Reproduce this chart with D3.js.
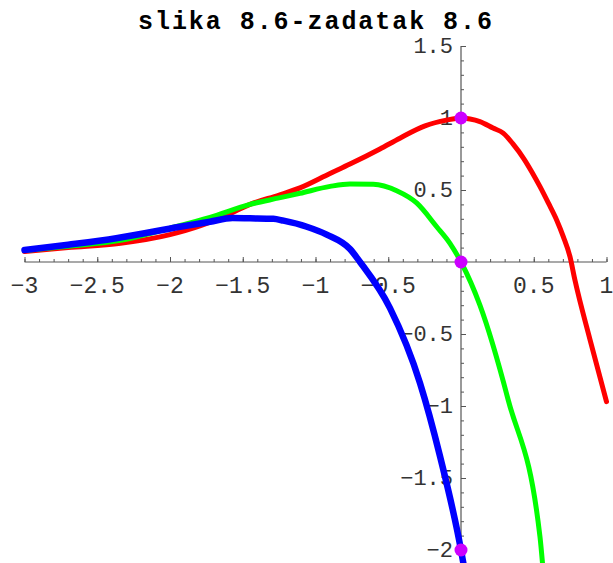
<!DOCTYPE html>
<html>
<head>
<meta charset="utf-8">
<script src="https://cdn.jsdelivr.net/npm/d3@7"></script>
<style>
  html, body { margin: 0; padding: 0; background: #fff; }
  svg { display: block; }
</style>
</head>
<body>
<svg id="chart" width="613" height="563"></svg>
<script>
// f(x), f'(x) and f''(x) sampled as [x, y] pairs
const redPoints = [
  [-3, 0.073], [-2.7, 0.10], [-2.34, 0.13], [-2.0, 0.19], [-1.79, 0.252], [-1.6, 0.33],
  [-1.45, 0.40], [-1.25, 0.465], [-1.107, 0.515], [-0.9, 0.615], [-0.763, 0.68],
  [-0.557, 0.785], [-0.42, 0.86], [-0.247, 0.945], [-0.1, 0.985], [0, 1.0],
  [0.062, 0.993], [0.13, 0.975], [0.22, 0.93], [0.29, 0.895], [0.357, 0.82],
  [0.43, 0.72], [0.486, 0.627], [0.543, 0.523], [0.6, 0.41], [0.658, 0.29],
  [0.703, 0.176], [0.749, 0.037], [0.783, -0.125], [0.887, -0.54], [1.0, -0.97]
];
const greenPoints = [
  [-3, 0.08], [-2.7, 0.11], [-2.34, 0.15], [-2.0, 0.235], [-1.725, 0.31],
  [-1.45, 0.40], [-1.25, 0.445], [-1.107, 0.477], [-0.9, 0.525], [-0.763, 0.542],
  [-0.603, 0.54], [-0.442, 0.495], [-0.305, 0.41], [-0.167, 0.245], [-0.076, 0.13],
  [0, 0], [0.13, -0.3], [0.325, -0.96], [0.543, -1.91], [0.56, -2.09]
];
const bluePoints = [
  [-3, 0.083], [-2.7, 0.12], [-2.37, 0.165], [-1.93, 0.245], [-1.725, 0.28],
  [-1.57, 0.305], [-1.45, 0.303], [-1.29, 0.30], [-1.22, 0.287], [-1.06, 0.245],
  [-0.923, 0.19], [-0.763, 0.09], [-0.694, 0.0], [-0.488, -0.32], [-0.282, -0.84],
  [-0.144, -1.35], [0, -2.0], [0.016, -2.09]
];
// marked values at x = 0
const markedPoints = [[0, 1], [0, 0], [0, -2]];

const xLabelValues = [-3, -2.5, -2, -1.5, -1, -0.5, 0.5, 1];
const yLabelValues = [1.5, 1, 0.5, -0.5, -1, -1.5, -2];
const titleText = "slika 8.6-zadatak 8.6";

const svg = d3.select("#chart");
const W = 613, H = 563;

const x = d3.scaleLinear().domain([-3, 1]).range([24.5, 606.5]);
const y = d3.scaleLinear().domain([1.5, -2]).range([46, 550]);

const fmt = v => String(v).replace("-", "\u2212");
const labelFont = "'Courier New', 'Liberation Mono', monospace";

// title
svg.append("text")
  .attr("x", 315).attr("y", 29)
  .attr("text-anchor", "middle")
  .attr("textLength", 354)
  .attr("lengthAdjust", "spacing")
  .style("font-family", labelFont)
  .style("font-weight", "bold")
  .style("font-size", "25px")
  .text(titleText);

const axisColor = "#555";

// horizontal axis: line, minor and major ticks pointing up
const minorX = d3.range(-30, 11).map(i => i / 10);
const majorX = d3.range(-6, 3).map(i => i / 2);
const gx = svg.append("g").attr("transform", `translate(0,${y(0)})`);
gx.call(d3.axisTop(x).tickValues(minorX).tickSize(3).tickFormat(""));
gx.call(g => g.append("g").call(d3.axisTop(x).tickValues(majorX).tickSize(5).tickFormat("")));
gx.selectAll("path").remove();
gx.selectAll("line").attr("stroke", axisColor);
gx.append("line")
  .attr("x1", x(-3)).attr("x2", x(1))
  .attr("stroke", axisColor).attr("stroke-width", 1.2);

// vertical axis: line, ticks pointing right
const minorY = d3.range(-21, 16).map(i => i / 10);
const majorY = d3.range(-4, 4).map(i => i / 2);
const gy = svg.append("g").attr("transform", `translate(${x(0)},0)`);
gy.call(d3.axisRight(y).tickValues(minorY).tickSize(3).tickFormat(""));
gy.call(g => g.append("g").call(d3.axisRight(y).tickValues(majorY).tickSize(5).tickFormat("")));
gy.selectAll("path").remove();
gy.selectAll("line").attr("stroke", axisColor);
gy.append("line")
  .attr("y1", y(1.5)).attr("y2", H)
  .attr("stroke", axisColor).attr("stroke-width", 1.2);

// tick labels
svg.append("g").selectAll("text")
  .data(xLabelValues).join("text")
  .attr("x", d => x(d))
  .attr("y", y(0) + 31)
  .attr("text-anchor", "middle")
  .style("font-family", labelFont)
  .style("font-size", "23px")
  .attr("fill", "#333")
  .text(fmt);

svg.append("g").selectAll("text")
  .data(yLabelValues).join("text")
  .attr("x", x(0) - 8)
  .attr("y", d => y(d) + 7)
  .attr("text-anchor", "end")
  .style("font-family", labelFont)
  .style("font-size", "22px")
  .attr("fill", "#333")
  .text(fmt);

// curves
const line = d3.line()
  .x(d => x(d[0]))
  .y(d => y(d[1]))
  .curve(d3.curveMonotoneX);

const series = [
  { pts: redPoints, color: "#ff0000", width: 5 },
  { pts: greenPoints, color: "#00ff00", width: 5 },
  { pts: bluePoints, color: "#0000ff", width: 6.5 }
];

svg.append("g").selectAll("path")
  .data(series).join("path")
  .attr("d", d => line(d.pts))
  .attr("fill", "none")
  .attr("stroke", d => d.color)
  .attr("stroke-width", d => d.width)
  .attr("stroke-linecap", "round")
  .attr("stroke-linejoin", "round");

// marked points
svg.append("g").selectAll("circle")
  .data(markedPoints).join("circle")
  .attr("cx", d => x(d[0]))
  .attr("cy", d => y(d[1]))
  .attr("r", 6.5)
  .attr("fill", "#cc00ff");
</script>
</body>
</html>
